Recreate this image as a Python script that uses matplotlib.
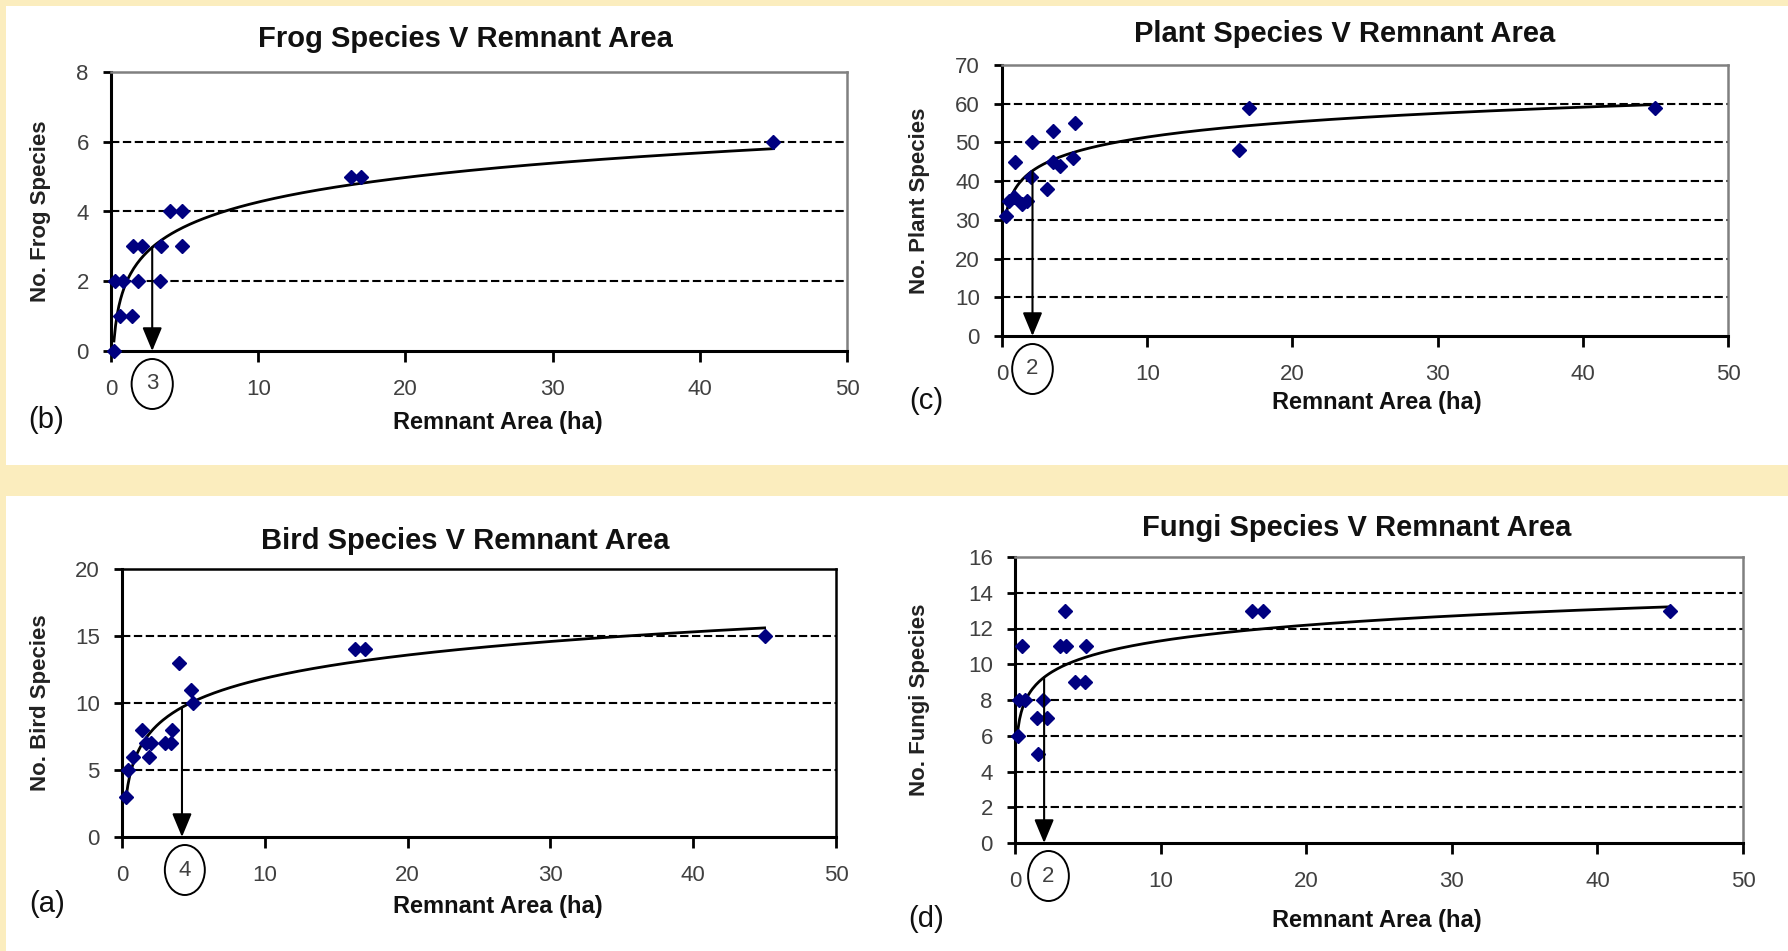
import numpy as np
import matplotlib.pyplot as plt
from matplotlib.patches import Rectangle, Ellipse

# values (area in ha, number of species)
frog_area = [0.2, 0.3, 0.8, 0.6, 1.4, 1.85, 3.3, 1.5, 2.1, 3.4, 4.8, 4.0, 4.8, 16.3, 17.0, 45]
frog_species = [0, 2, 2, 1, 1, 2, 2, 3, 3, 3, 3, 4, 4, 5, 5, 6]

plant_area = [0.3, 0.5, 0.8, 1.4, 1.7, 0.9, 2.1, 2.0, 3.1, 3.5, 3.5, 4.0, 4.9, 5.0, 16.3, 17.0, 45]
plant_species = [31, 35, 36, 34, 35, 45, 50, 41, 38, 53, 45, 44, 46, 55, 48, 59, 59]

bird_area = [0.3, 0.4, 0.8, 1.4, 1.7, 2.0, 1.9, 3.0, 3.4, 3.5, 4.0, 4.8, 5.0, 16.3, 17.0, 45]
bird_species = [3, 5, 6, 8, 7, 7, 6, 7, 7, 8, 13, 11, 10, 14, 14, 15]

fungi_area = [0.2, 0.3, 0.7, 0.5, 1.9, 1.5, 2.2, 1.6, 3.4, 3.1, 3.5, 4.9, 4.1, 4.8, 16.3, 17.0, 45]
fungi_species = [6, 8, 8, 11, 8, 7, 7, 5, 13, 11, 11, 11, 9, 9, 13, 13, 13]

titles = ["Frog Species V Remnant Area", "Plant Species V Remnant Area",
          "Bird Species V Remnant Area", "Fungi Species V Remnant Area"]
ylabels = ["No. Frog Species", "No. Plant Species", "No. Bird Species", "No. Fungi Species"]
panel_tags = ["(b)", "(c)", "(a)", "(d)"]
y_max = [8, 70, 20, 16]
y_step = [2, 10, 5, 2]
x_ticks = [0, 10, 20, 30, 40, 50]
# minimum area marked with the arrow, and the circled label under it
arrow_area = [2.8, 2.1, 4.2, 2.0]
circle_text = ["3", "2", "4", "2"]
circle_area = [2.8, 2.1, 4.4, 2.3]

areas = [frog_area, plant_area, bird_area, fungi_area]
species = [frog_species, plant_species, bird_species, fungi_species]

W, H = 1788, 951
FONT = ['Liberation Sans', 'DejaVu Sans']

# axes boxes in pixels: left, top, right, bottom
boxes = [(111, 72, 847, 351), (1002, 65, 1728, 336),
         (122, 569, 836, 837), (1015, 557, 1743, 843)]
title_pos = [(465, 39), (1345, 34), (465, 541), (1357, 528)]
xlabel_pos = [(498, 422), (1377, 402), (498, 906), (1377, 921)]
tag_pos = [(46, 420), (926, 401), (47, 904), (926, 919)]
ylabel_off = [60, 72, 71, 85]
frame_col = ['#808080', '#808080', 'black', '#808080']

fig = plt.figure(figsize=(W / 100, H / 100), dpi=100)
fig.patch.set_facecolor('#FBEDBE')
fig.patches.append(Rectangle((6 / W, 1 - 465 / H), 1 - 6 / W, 459 / H, transform=fig.transFigure,
                             facecolor='white', edgecolor='none', zorder=-10))
fig.patches.append(Rectangle((6 / W, 0), 1 - 6 / W, 1 - 496 / H, transform=fig.transFigure,
                             facecolor='white', edgecolor='none', zorder=-10))

for i in range(4):
    l, t, r, b = boxes[i]
    ax = fig.add_axes([l / W, 1 - b / H, (r - l) / W, (b - t) / H])
    x = np.array(areas[i])
    y = np.array(species[i])

    ax.set_xlim(0, 50)
    ax.set_ylim(0, y_max[i])
    yt = np.arange(0, y_max[i] + 1, y_step[i])
    ax.set_xticks(x_ticks)
    ax.set_yticks(yt)
    ax.hlines(yt[1:-1], 0, 50, colors='black', linestyles=(0, (4, 1.7)), lw=1.5, zorder=1)

    # logarithmic trendline, as in the spreadsheet
    a, c = np.polyfit(np.log(x), y, 1)
    xs = np.linspace(x.min(), x.max(), 400)
    ax.plot(xs, a * np.log(xs) + c, color='black', lw=2, zorder=3)

    ax.plot(x, y, 'D', color='#000080', markersize=7.5, zorder=4, clip_on=False)

    xa = arrow_area[i]
    ax.annotate('', xy=(xa, 0), xytext=(xa, a * np.log(xa) + c),
                arrowprops=dict(arrowstyle='-|>,head_length=0.6,head_width=0.25',
                                color='black', lw=1.5, shrinkA=0, shrinkB=0,
                                mutation_scale=24), zorder=5)

    tr = ax.get_xaxis_transform()
    h_ax = b - t
    ax.add_patch(Ellipse((circle_area[i], -33 / h_ax), 2.8, 50 / h_ax, transform=tr,
                         facecolor='none', edgecolor='black', lw=1.4, clip_on=False))
    ax.text(circle_area[i], -33 / h_ax, circle_text[i], transform=tr, ha='center',
            va='center', family=FONT, fontsize=16, color='#404040')

    for s in ['left', 'bottom']:
        ax.spines[s].set_color('black')
        ax.spines[s].set_linewidth(2.2)
    for s in ['top', 'right']:
        ax.spines[s].set_color(frame_col[i])
        ax.spines[s].set_linewidth(1.8)
    ax.tick_params(axis='x', length=8, width=2, pad=12, labelsize=16, labelcolor='#404040')
    ax.tick_params(axis='y', length=6, width=2, pad=10, labelsize=16, labelcolor='#404040')
    for lab in ax.get_xticklabels() + ax.get_yticklabels():
        lab.set_family(FONT)

    ax.set_ylabel(ylabels[i], family=FONT, fontweight='bold', fontsize=16, color='#222222')
    ax.yaxis.set_label_coords(-ylabel_off[i] / (r - l), 0.5)

    fig.text(title_pos[i][0] / W, 1 - title_pos[i][1] / H, titles[i], family=FONT,
             fontweight='bold', fontsize=21, ha='center', va='center', color='#111111')
    fig.text(xlabel_pos[i][0] / W, 1 - xlabel_pos[i][1] / H, 'Remnant Area (ha)', family=FONT,
             fontweight='bold', fontsize=17, ha='center', va='center', color='#111111')
    fig.text(tag_pos[i][0] / W, 1 - tag_pos[i][1] / H, panel_tags[i], family=FONT,
             fontsize=21, ha='center', va='center', color='#111111')

fig.savefig('out.png', dpi=100, facecolor=fig.get_facecolor())
